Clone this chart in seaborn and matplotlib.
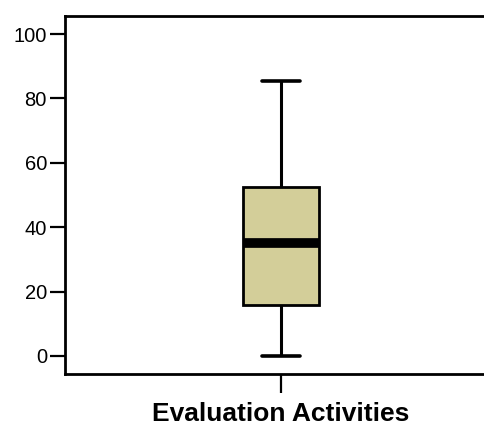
import pandas as pd
import matplotlib.pyplot as plt
import seaborn as sns

# five-number summary (min, q1, median, q3, max)
scores = [0, 15.8, 35.2, 52.6, 85.5]
variable = "Evaluation Activities"
y_ticks = [0, 20, 40, 60, 80, 100]

df = pd.DataFrame({variable: scores})

sns.set_style("white", rc={"text.color": "black", "axes.labelcolor": "black",
                           "xtick.color": "black", "ytick.color": "black",
                           "axes.edgecolor": "black"})
plt.rcParams['font.family'] = ['Liberation Sans', 'DejaVu Sans']

fig = plt.figure(figsize=(4.84, 4.25), dpi=100)
ax = fig.add_axes([65 / 484, 1 - 374 / 425, 432 / 484, 358 / 425])

sns.boxplot(data=df, y=variable, ax=ax, width=0.178, color="#D3CE99",
            linewidth=2, linecolor="black", saturation=1,
            boxprops=dict(edgecolor="black", linewidth=2),
            medianprops=dict(color="black", linewidth=7, solid_capstyle="butt"),
            whiskerprops=dict(color="black", linewidth=2.2),
            capprops=dict(color="black", linewidth=2.6),
            capwidths=0.088)

ax.set_xlim(-0.5, 0.5)
ax.set_ylim(-5.6, 105.6)
ax.set_yticks(y_ticks)
ax.set_xticks([0])
ax.set_xticklabels([""])
ax.set_xlabel(variable, fontsize=19, fontweight="bold", labelpad=3)
ax.set_ylabel("")

for side in ["left", "bottom", "top", "right"]:
    ax.spines[side].set_linewidth(2)
    ax.spines[side].set_color("black")

ax.tick_params(axis="y", direction="out", length=11, width=1.6, labelsize=14.5,
               pad=2, left=True, colors="black")
ax.tick_params(axis="x", direction="out", length=14, width=1.6, bottom=True, colors="black")

fig.savefig("out.png", dpi=100)
